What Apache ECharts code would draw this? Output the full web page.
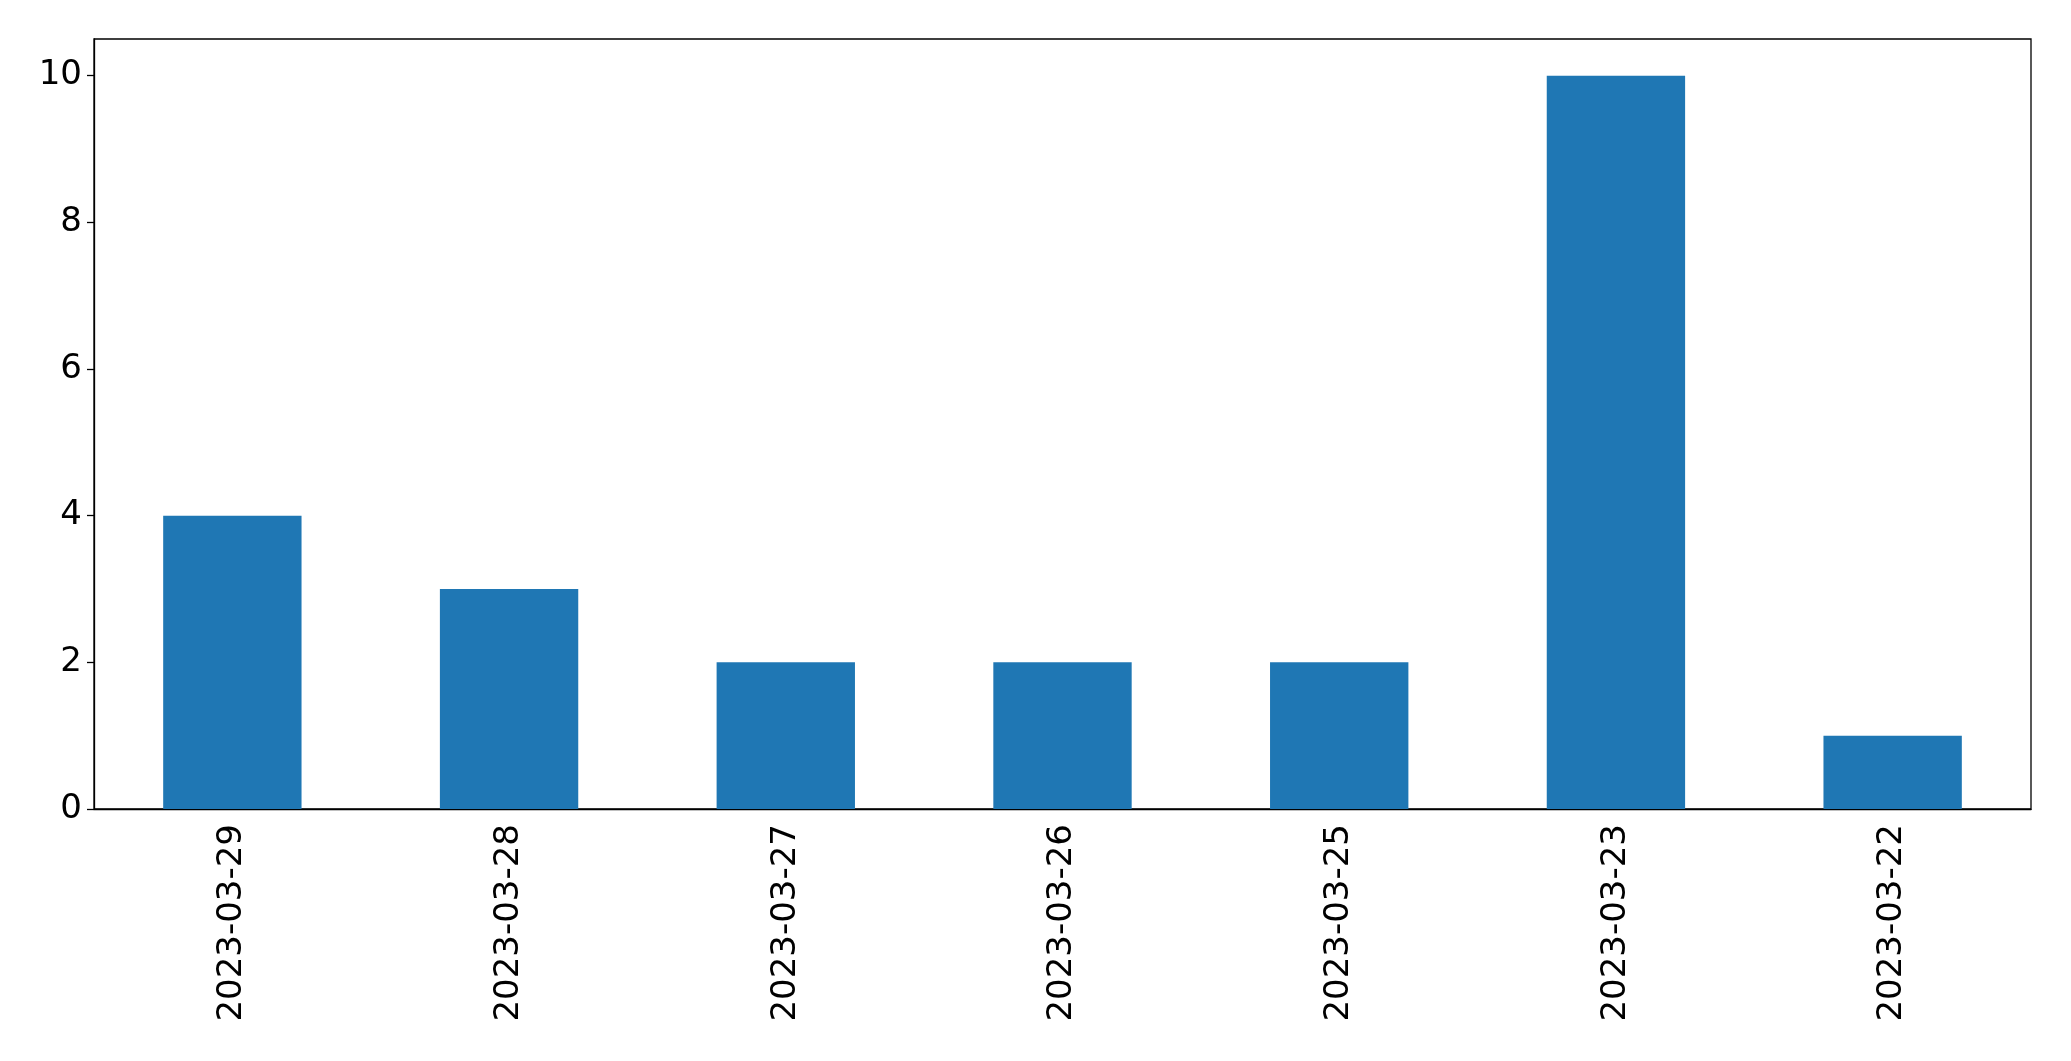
<!DOCTYPE html>
<html>
<head>
<meta charset="utf-8">
<script src="https://cdn.jsdelivr.net/npm/echarts@6/dist/echarts.min.js"></script>
<style>html,body{margin:0;padding:0;background:#fff}#c{width:2071px;height:1061px}</style>
</head>
<body>
<div id="c"></div>
<script>
const categories = ['2023-03-29','2023-03-28','2023-03-27','2023-03-26','2023-03-25','2023-03-23','2023-03-22'];
const values = [4, 3, 2, 2, 2, 10, 1];
const yTicks = [0, 2, 4, 6, 8, 10];

const chart = echarts.init(document.getElementById('c'), null, {renderer: 'canvas'});
chart.setOption({
  animation: false,
  backgroundColor: '#ffffff',
  grid: {left: 94, top: 39, width: 1937, height: 770, show: true, borderColor: '#000', borderWidth: 1.3, backgroundColor: 'transparent'},
  xAxis: {
    type: 'category',
    data: categories,
    axisLine: {lineStyle: {color: '#000', width: 1.3}},
    axisTick: {alignWithLabel: true, length: 7, lineStyle: {color: '#000', width: 1.3}},
    axisLabel: {rotate: 90, margin: 15, fontSize: 34, color: '#000', fontFamily: 'DejaVu Sans'},
    splitLine: {show: false}
  },
  yAxis: {
    type: 'value',
    min: 0, max: 10.5, interval: 2,
    axisLine: {show: true, lineStyle: {color: '#000', width: 1.3}},
    axisTick: {show: true, length: 7, customValues: yTicks, lineStyle: {color: '#000', width: 1.3}},
    axisLabel: {margin: 12, fontSize: 34, color: '#000', fontFamily: 'DejaVu Sans', customValues: yTicks},
    splitLine: {show: false}
  },
  series: [{
    type: 'bar',
    data: values,
    barWidth: '50%',
    itemStyle: {color: '#1f77b4'}
  }]
});
</script>
</body>
</html>
